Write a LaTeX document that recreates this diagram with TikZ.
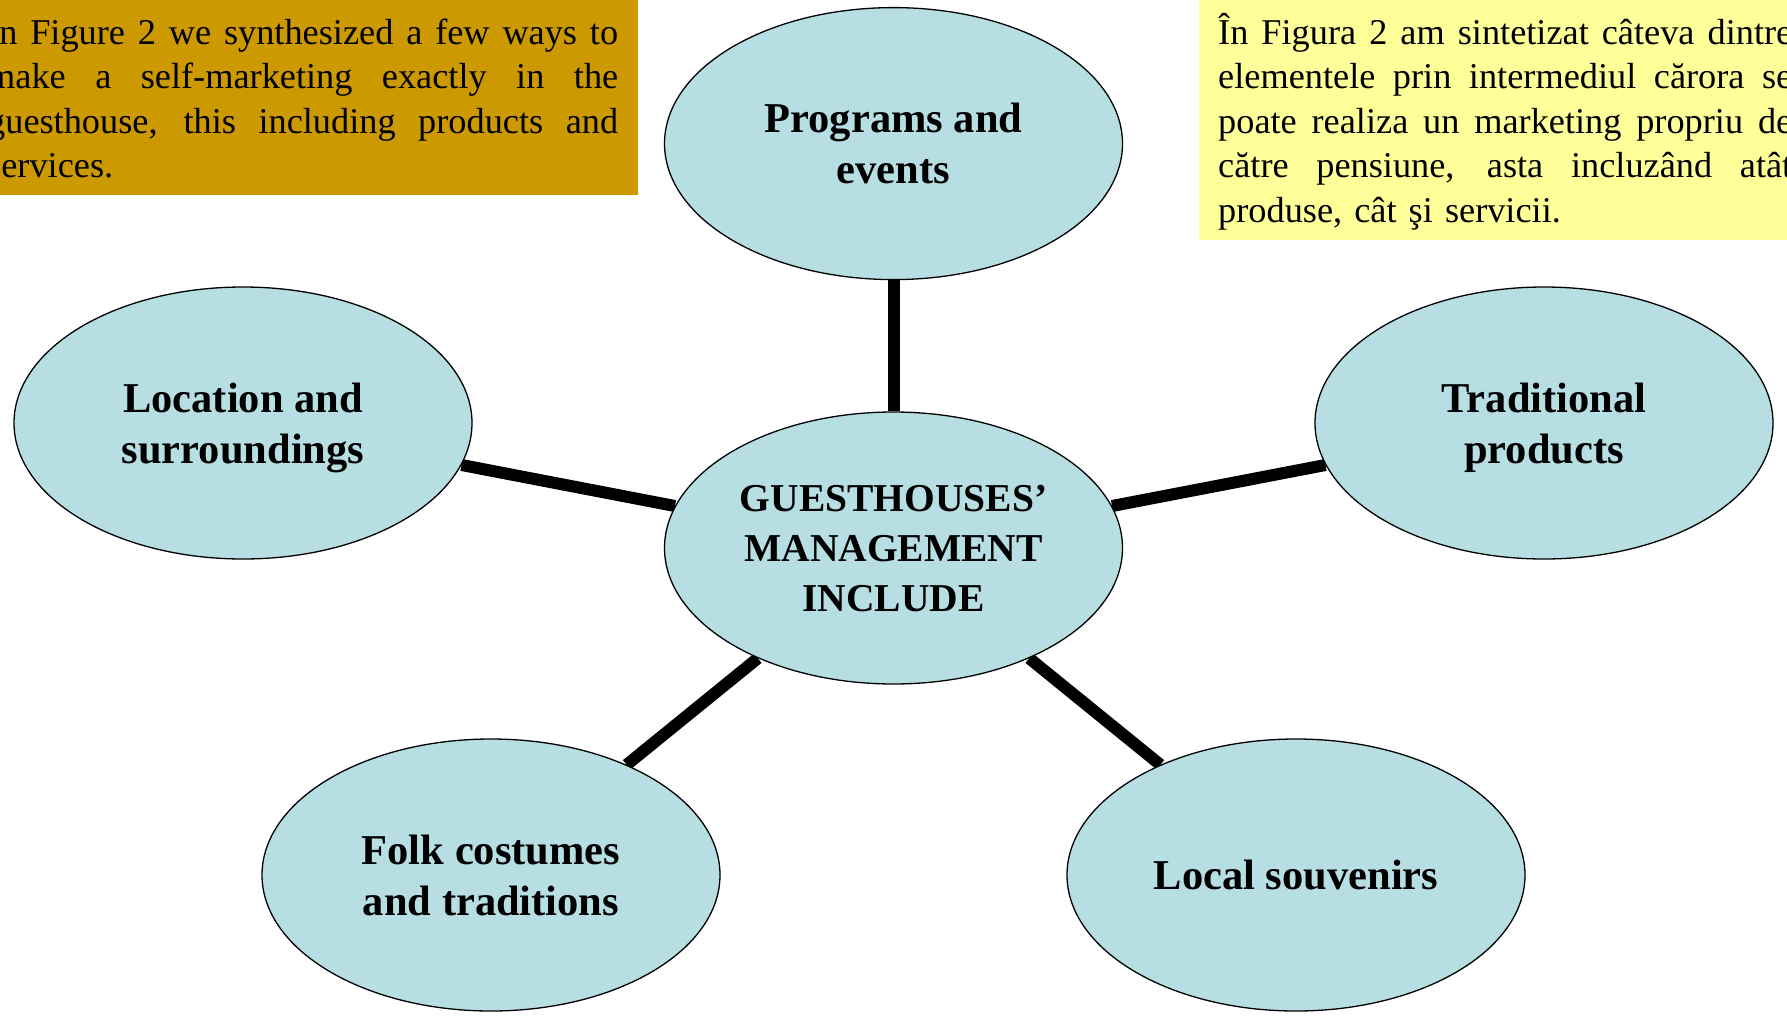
\documentclass[tikz,border=0pt]{standalone}
\usepackage{fontspec}
\setmainfont{Liberation Serif}
\usetikzlibrary{shapes.geometric,backgrounds}
\definecolor{goldbox}{RGB}{204,153,0}
\definecolor{paleyellow}{RGB}{255,255,153}
\definecolor{ellfill}{RGB}{183,222,226}
\newcommand\jline[2]{\leavevmode\hbox to #1{\spaceskip=0.25em plus 1fil\relax #2}}
\tikzset{
  topic/.style={ellipse, draw=black, line width=1.3pt, fill=ellfill, minimum width=458pt, minimum height=272pt, inner sep=0pt, align=center, text depth=-4.5pt, font=\bfseries\fontsize{42.5}{51}\selectfont},
  hub/.style={topic, text depth=-2.5pt, font=\bfseries\fontsize{39.5}{50}\selectfont},
  spoke/.style={line width=12pt},
  bodytext/.style={anchor=north west, inner sep=0pt, align=left, font=\fontsize{36.3}{44.5}\selectfont},
}
\begin{document}
\begin{tikzpicture}[x=1pt,y=-1pt]
\useasboundingbox (0,0) rectangle (1787,1017);
\clip (0,0) rectangle (1787,1017);
\fill[goldbox] (-30,0) rectangle (638,195);
\node[bodytext, text width=631pt] (entext) at (-13,9) {\rule{0pt}{35pt}\jline{631pt}{In Figure 2 we synthesized a few ways to}\\
\jline{631pt}{make a self-marketing exactly in the}\\
\jline{631pt}{guesthouse, this including products and}\\
services.};
\fill[paleyellow] (1199,0) rectangle (1810,240);
\node[bodytext, text width=574pt] (rotext) at (1218,9) {\rule{0pt}{35pt}\jline{574pt}{În Figura 2 am sintetizat câteva dintre}\\
\jline{574pt}{elementele prin intermediul cărora se}\\
\jline{574pt}{poate realiza un marketing propriu de}\\
\jline{574pt}{către pensiune, asta incluzând atât}\\
produse, cât şi servicii.};
\node[topic] (prog) at (893.5,143.6) {Programs and\\events};
\node[topic] (loc) at (243,423) {Location and\\surroundings};
\node[topic] (trad) at (1544,423) {Traditional\\products};
\node[hub] (hub) at (893.5,548) {GUESTHOUSES’\\MANAGEMENT\\INCLUDE};
\node[topic] (folk) at (491,875) {Folk costumes\\and traditions};
\node[topic] (souv) at (1296,875) {Local souvenirs};
\begin{scope}[on background layer]
\draw[spoke] (hub) -- (prog);
\draw[spoke] (hub) -- (loc);
\draw[spoke] (hub) -- (trad);
\draw[spoke] (hub) -- (folk);
\draw[spoke] (hub) -- (souv);
\end{scope}
\end{tikzpicture}
\end{document}
